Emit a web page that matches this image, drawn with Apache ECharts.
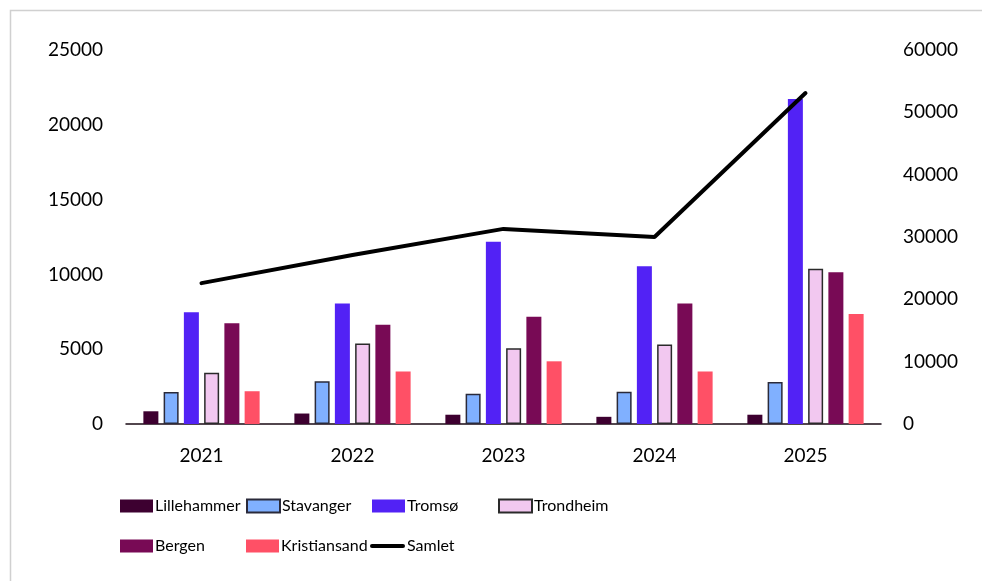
<!DOCTYPE html>
<html><head><meta charset="utf-8">
<script src="https://cdn.jsdelivr.net/npm/echarts@6/dist/echarts.min.js"></script>
<style>html,body{margin:0;padding:0;background:#fff}#c{width:982px;height:581px}</style>
</head><body><div id="c"></div>
<script>
const years = ['2021','2022','2023','2024','2025'];
const lillehammer = [850, 700, 620, 480, 620];
const stavanger = [2140, 2860, 2030, 2150, 2810];
const tromso = [7470, 8050, 12190, 10550, 21720];
const trondheim = [3430, 5380, 5060, 5310, 10380];
const bergen = [6730, 6630, 7170, 8050, 10140];
const kristiansand = [2190, 3510, 4190, 3510, 7350];
const samlet = [22600, 27100, 31300, 30000, 53100];
const leftTicks = [0, 5000, 10000, 15000, 20000, 25000];
const rightTicks = [0, 10000, 20000, 30000, 40000, 50000, 60000];

const FONT = 'Lato';
const barSeries = [
  {name:'Lillehammer', data:lillehammer, color:'#3d0030', border:null},
  {name:'Stavanger', data:stavanger, color:'#80b0ff', border:'#2a2a3a'},
  {name:'Tromsø', data:tromso, color:'#5222f5', border:null},
  {name:'Trondheim', data:trondheim, color:'#f2c8f0', border:'#2a2a2a'},
  {name:'Bergen', data:bergen, color:'#780a55', border:null},
  {name:'Kristiansand', data:kristiansand, color:'#ff5066', border:null}
];
const legendPos = [
  [120,498],[246,498],[372,498],[498,498],
  [120,538],[246,538],[370,538]
];
const names = barSeries.map(s=>s.name).concat(['Samlet']);

const series = barSeries.map(s=>({
  name:s.name, type:'bar', yAxisIndex:0, data:s.data,
  barWidth:15, barGap:'35%',
  itemStyle:{color:s.color, borderColor:s.border||s.color, borderWidth:s.border?1.5:0},
  emphasis:{disabled:true}
}));
series.push({
  name:'Samlet', type:'line', yAxisIndex:1, data:samlet,
  symbol:'none', lineStyle:{color:'#000', width:4, cap:'round'}, itemStyle:{color:'#000'},
  z:10
});

const legends = names.map((n,i)=>{
  const isLine = n==='Samlet';
  return {
    data:[isLine ? {name:n, icon:'path://M2,0 L33,0 A2,2 0 0 1 33,4 L2,4 A2,2 0 0 1 2,0 Z', itemStyle:{color:'#000'}} : {name:n, icon:'rect'}],
    left:legendPos[i][0], top: legendPos[i][1],
    padding:0, symbolKeepAspect:true,
    itemWidth: isLine ? 35 : 33, itemHeight: 13, itemGap:0,
    textStyle:{fontFamily:FONT, fontSize:16, color:'#000', padding:[0,0,0,-3]},
    selectedMode:false
  };
});

const fmt = v => String(v);
const chart = echarts.init(document.getElementById('c'), null, {renderer:'canvas'});
chart.setOption({
  animation:false,
  backgroundColor:'#fff',
  graphic:[{type:'rect', shape:{x:10.5,y:10.5,width:1100,height:700}, style:{fill:'none', stroke:'#d0d0d0', lineWidth:1.5}, silent:true, z:-1}],
  grid:{left:126, right:101, top:50, bottom:157, containLabel:false},
  legend:legends,
  xAxis:{type:'category', data:years,
    axisLine:{lineStyle:{color:'#1a0a14', width:1.5}}, axisTick:{show:false},
    axisLabel:{fontFamily:FONT, fontSize:19, color:'#000', margin:22}},
  yAxis:[
    {type:'value', min:0, max:25000, interval:5000, splitLine:{show:false},
     axisLine:{show:false}, axisTick:{show:false},
     axisLabel:{fontFamily:FONT, fontSize:19, color:'#000', margin:23, formatter:fmt,
       customValues:leftTicks}},
    {type:'value', min:0, max:60000, interval:10000, splitLine:{show:false},
     axisLine:{show:false}, axisTick:{show:false}, position:'right',
     axisLabel:{fontFamily:FONT, fontSize:19, color:'#000', margin:22, formatter:fmt,
       customValues:rightTicks}}
  ],
  series:series
});
</script></body></html>
